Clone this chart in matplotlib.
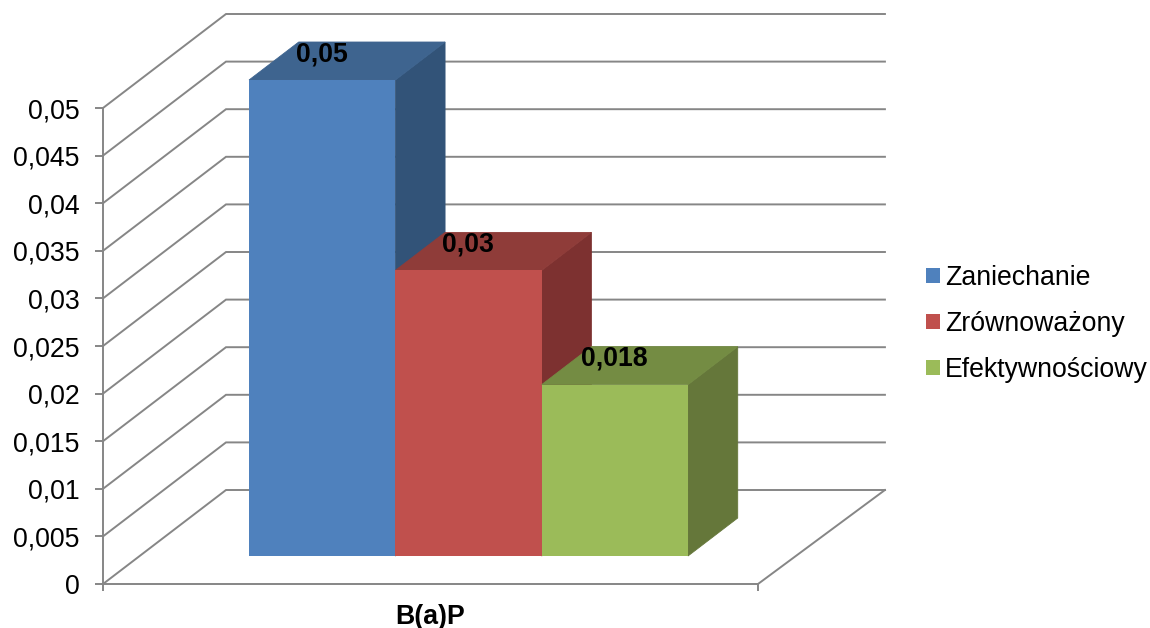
import matplotlib
matplotlib.use("Agg")
import matplotlib.pyplot as plt

plt.rcParams['font.family'] = ['Liberation Sans', 'DejaVu Sans']

# Data
series = ["Zaniechanie", "Zrównoważony", "Efektywnościowy"]
values = [0.05, 0.03, 0.018]
value_labels = ["0,05", "0,03", "0,018"]
category = "B(a)P"
y_ticks = [0, 0.005, 0.01, 0.015, 0.02, 0.025, 0.03, 0.035, 0.04, 0.045, 0.05]
y_tick_labels = ["0", "0,005", "0,01", "0,015", "0,02", "0,025", "0,03", "0,035", "0,04", "0,045", "0,05"]

front_colors = ["#4F81BD", "#C0504D", "#9BBB59"]
top_colors = ["#3E648F", "#8F3C39", "#748C43"]
side_colors = ["#325378", "#7D3130", "#65773A"]

GRID = "#868686"
FS = 19.2
LW = 1.4

# Size of the fake 3D depth, in axis units
DEPTH_X = 123 / 655
DEPTH_Y = 94 / 476 * 0.05
BACK_RIGHT = 1.006
BAR_START = 0.167
BAR_WIDTH = 0.2234
BAR_D0 = 0.298
BAR_D1 = 0.702


def project(x, y, d):
    return x + d * DEPTH_X, y + d * DEPTH_Y


def poly(ax, points, color, zorder):
    xs = [project(*p)[0] for p in points]
    ys = [project(*p)[1] for p in points]
    # thin edge in the same colour so no seam shows between the faces
    ax.fill(xs, ys, facecolor=color, edgecolor=color, lw=0.6, zorder=zorder, clip_on=False)


fig = plt.figure(figsize=(11.5, 6.28), dpi=100)
ax = fig.add_axes([103 / 1150, (628 - 584) / 628, 655 / 1150, 476 / 628])
ax.set_xlim(0, 1)
ax.set_ylim(0, 0.05)

# Walls: diagonal on the side wall and a horizontal line on the back wall
for t in y_ticks:
    x0, y0 = project(0, t, 0)
    x1, y1 = project(0, t, 1)
    x2, y2 = project(BACK_RIGHT, t, 1)
    ax.plot([x0, x1, x2], [y0, y1, y2], color=GRID, lw=LW, clip_on=False, zorder=1,
            solid_joinstyle="miter")

# Floor edge on the right
x0, y0 = project(1, 0, 0)
x1, y1 = project(BACK_RIGHT, 0, 1)
ax.plot([x0, x1], [y0, y1], color=GRID, lw=LW, clip_on=False, zorder=1)

# Bars, painted left to right so every front covers the side of the one before
for i, v in enumerate(values):
    left = BAR_START + i * BAR_WIDTH
    right = left + BAR_WIDTH
    z = 3 + i * 3
    poly(ax, [(right, 0, BAR_D0), (right, 0, BAR_D1), (right, v, BAR_D1), (right, v, BAR_D0)], side_colors[i], z)
    poly(ax, [(left, v, BAR_D0), (right, v, BAR_D0), (right, v, BAR_D1), (left, v, BAR_D1)], top_colors[i], z + 1)
    fx, fy = project(left, 0, BAR_D0)
    ax.bar(fx, v, BAR_WIDTH, bottom=fy, align="edge", color=front_colors[i], lw=0,
           label=series[i], zorder=z + 2, clip_on=False)
    lx, ly = project(left + BAR_WIDTH / 2, v, BAR_D0)
    ax.text(lx - 0.001, ly + 0.0027, value_labels[i], fontsize=FS, fontweight="bold", color="black",
            ha="center", va="center", zorder=20)

ax.spines["top"].set_visible(False)
ax.spines["right"].set_visible(False)
for s in ["left", "bottom"]:
    ax.spines[s].set_color(GRID)
    ax.spines[s].set_linewidth(LW)
    ax.spines[s].set_zorder(2)

ax.set_yticks(y_ticks)
ax.set_yticklabels(y_tick_labels)
ax.set_xticks([0, 1])
ax.set_xticklabels(["", ""])
ax.tick_params(axis="y", length=6, width=LW, color=GRID, labelsize=FS, pad=11)
ax.tick_params(axis="x", length=5, width=LW, color=GRID)
ax.set_xlabel(category, fontsize=FS, fontweight="bold", labelpad=6)

fig.legend(loc="center left", bbox_to_anchor=(926 / 1150, 1 - 324 / 628), frameon=False,
           fontsize=FS, handlelength=0.52, handleheight=0.52, handletextpad=0.19,
           labelspacing=0.756, borderpad=0, borderaxespad=0)

fig.savefig("out.png", dpi=100)
